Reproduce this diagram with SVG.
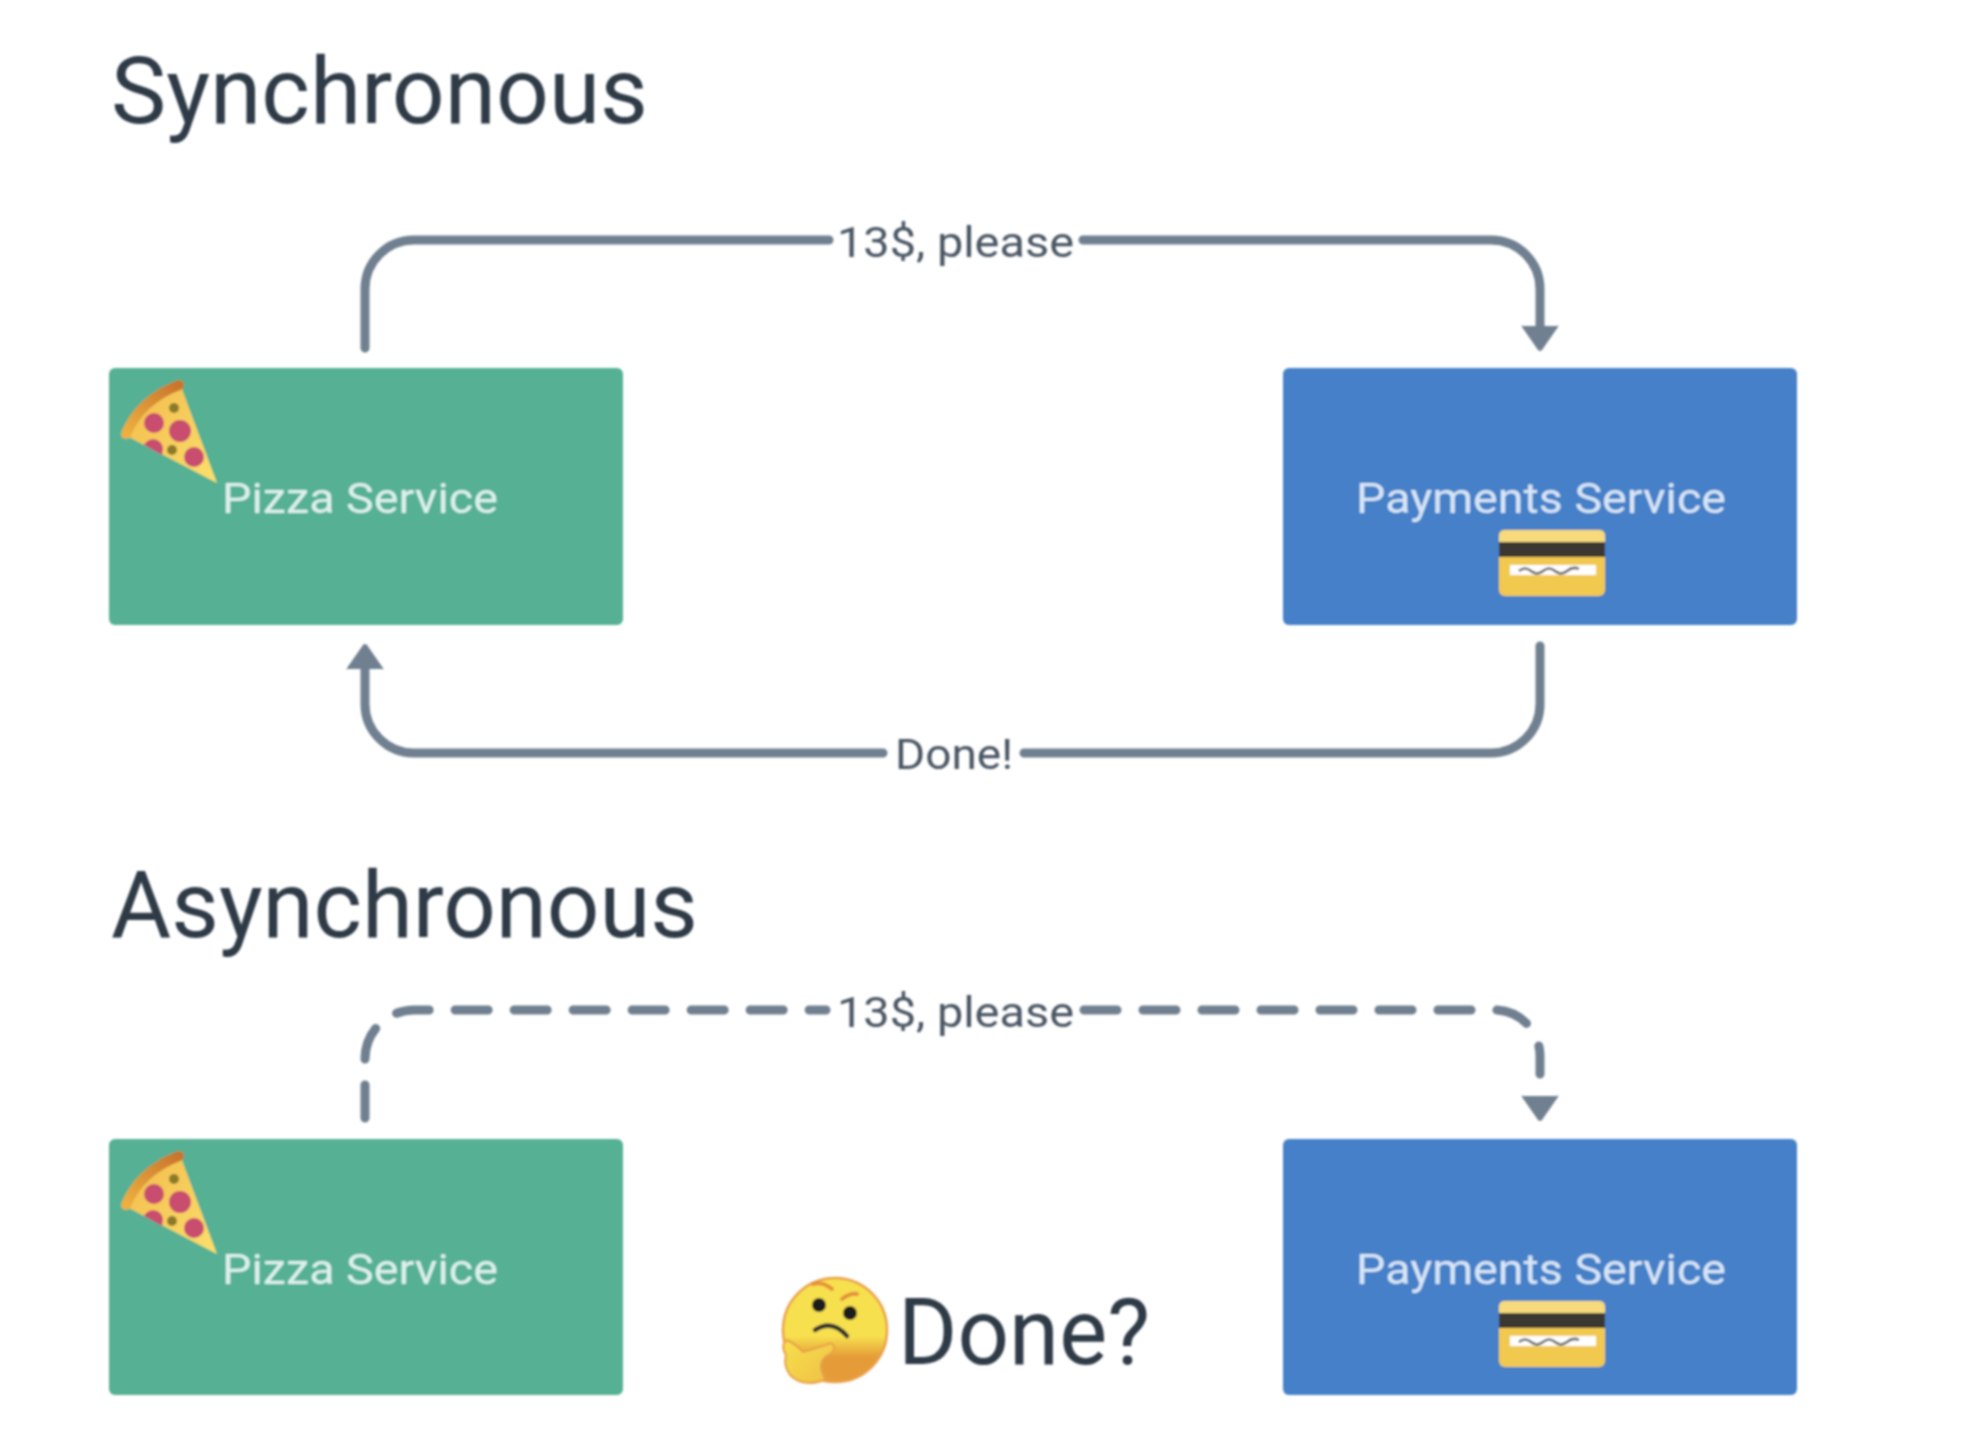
<svg xmlns="http://www.w3.org/2000/svg" width="1968" height="1432" viewBox="0 0 1968 1432">
<style>
text{font-family:"Roboto","Liberation Sans",sans-serif}
.title{font-size:93px;fill:#2F3B46}
.svc{font-size:42px;fill:#DDF1EC}
.pay{fill:#D8E6F6}
.lab{font-size:42px;fill:#4A5663}
.box{stroke:none}
.green{fill:#55B094}
.blue{fill:#4580C8}
.wire{fill:none;stroke:#708090;stroke-width:9;stroke-linecap:round}
.dash{stroke-dasharray:33 26}
.head{fill:none;stroke:none}
</style>
<defs>
<filter id="soft" filterUnits="userSpaceOnUse" x="0" y="0" width="1968" height="1432"><feGaussianBlur stdDeviation="0.9"/></filter>
<marker id="arrow" markerUnits="userSpaceOnUse" markerWidth="30" markerHeight="40" viewBox="0 0 30 40" refX="2" refY="20" orient="auto">
<path d="M2 3 Q0 1 3 2 L26 18 Q28 20 26 22 L3 38 Q0 39 2 37 Z" fill="#708090"/>
</marker>
<linearGradient id="slice" x1="0" y1="0" x2="1" y2="1"><stop offset="0" stop-color="#F2B94B"/><stop offset="1" stop-color="#FBE06C"/></linearGradient>
<linearGradient id="crust" x1="0" y1="1" x2="1" y2="0"><stop offset="0" stop-color="#EDB03F"/><stop offset="1" stop-color="#C9752C"/></linearGradient>
<linearGradient id="face" x1="0" y1="0" x2="0" y2="1"><stop offset="0" stop-color="#F7E04E"/><stop offset="0.56" stop-color="#F7E04E"/><stop offset="0.76" stop-color="#E59C38"/><stop offset="1" stop-color="#E59C38"/></linearGradient>
<linearGradient id="hand" x1="0" y1="0" x2="1" y2="1"><stop offset="0" stop-color="#F7E04E"/><stop offset="1" stop-color="#EFC044"/></linearGradient>
<g id="pizza">
<path d="M125 435 Q139 399 180 384 L217 483 Z" fill="url(#slice)"/>
<path d="M126 434 Q140 400 179 385" fill="none" stroke="url(#crust)" stroke-width="10" stroke-linecap="round"/>
<circle cx="154" cy="423" r="10" fill="#C84E6E"/><circle cx="180" cy="431" r="11" fill="#C84E6E"/>
<path d="M144 445 A10 10 0 0 1 163 448 L162 455 Z" fill="#C84E6E"/><circle cx="194" cy="457" r="10" fill="#C84E6E"/>
<circle cx="174" cy="408" r="5" fill="#8C7A2C"/><circle cx="172" cy="450" r="5" fill="#8C7A2C"/>
</g>
<g id="card">
<rect x="1499" y="530" width="106" height="66" rx="6" fill="#F1C94F"/>
<path d="M1499 542 V536 Q1499 530 1505 530 H1599 Q1605 530 1605 536 V542 Z" fill="#F6DA7C"/>
<rect x="1499" y="542" width="106" height="15" fill="#3A3832"/>
<rect x="1510" y="565" width="86" height="10" fill="#FFFFFF"/>
<path d="M1519 571 q6 -5 12 0 t12 0 t12 0 t12 0 t12 -2" fill="none" stroke="#5E5E5E" stroke-width="2.5"/>
</g>
</defs>
<rect width="1968" height="1432" fill="#FFFFFF"/>
<g filter="url(#soft)">
<g id="connectors">
<path class="wire" d="M365 348 V289 A49 49 0 0 1 414 240 H829"/>
<path class="wire" d="M1083 240 H1491 A49 49 0 0 1 1540 289 V326" marker-end="url(#arrow)"/>
<path class="wire" d="M1540 646 V704 A49 49 0 0 1 1491 753 H1024"/>
<path class="wire" d="M883 753 H414 A49 49 0 0 1 365 704 V669" marker-end="url(#arrow)"/>
<path class="wire dash" d="M365 1118 V1059 A49 49 0 0 1 414 1010 H826"/>
<path class="wire dash" d="M1084 1010 H1494 A46 46 0 0 1 1540 1056 V1074"/>
<path class="head" d="M1540 1090 V1096" marker-end="url(#arrow)"/>
</g>
<g id="title-sync"><text class="title" x="111" y="123" textLength="537" lengthAdjust="spacingAndGlyphs">Synchronous</text></g>
<g id="title-async"><text class="title" x="111" y="937" textLength="587" lengthAdjust="spacingAndGlyphs">Asynchronous</text></g>
<g id="label-pay-sync"><text class="lab" x="837" y="257" textLength="237" lengthAdjust="spacingAndGlyphs">13$, please</text></g>
<g id="label-done"><text class="lab" x="895" y="769" textLength="118" lengthAdjust="spacingAndGlyphs">Done!</text></g>
<g id="label-pay-async"><text class="lab" x="837" y="1027" textLength="237" lengthAdjust="spacingAndGlyphs">13$, please</text></g>
<g id="pizza-sync">
<rect class="box green" x="109" y="368" width="514" height="257" rx="6"/>
<use href="#pizza"/>
<text class="svc" x="222" y="513" textLength="276" lengthAdjust="spacingAndGlyphs">Pizza Service</text>
</g>
<g id="payments-sync">
<rect class="box blue" x="1283" y="368" width="514" height="257" rx="6"/>
<text class="svc pay" x="1356" y="513" textLength="370" lengthAdjust="spacingAndGlyphs">Payments Service</text>
<use href="#card"/>
</g>
<g id="pizza-async">
<rect class="box green" x="109" y="1139" width="514" height="256" rx="6"/>
<use href="#pizza" y="771"/>
<text class="svc" x="222" y="1284" textLength="276" lengthAdjust="spacingAndGlyphs">Pizza Service</text>
</g>
<g id="payments-async">
<rect class="box blue" x="1283" y="1139" width="514" height="256" rx="6"/>
<text class="svc pay" x="1356" y="1284" textLength="370" lengthAdjust="spacingAndGlyphs">Payments Service</text>
<use href="#card" y="771"/>
</g>
<g id="done-question">
<circle cx="835" cy="1330" r="52" fill="url(#face)" stroke="#E9A04A" stroke-width="2.5"/>
<path d="M813 1284 Q822 1281 832 1289 M842 1299 Q850 1293 857 1294" fill="none" stroke="#E5913A" stroke-width="4" stroke-linecap="round"/>
<circle cx="819" cy="1305" r="7" fill="#1E1E1E"/><circle cx="850" cy="1313" r="7" fill="#1E1E1E"/>
<path d="M815 1330 Q832 1319 847 1336" fill="none" stroke="#333" stroke-width="4.5" stroke-linecap="round"/>
<path d="M787 1340 Q797 1345 803 1352 Q820 1347 831 1343 Q838 1348 830 1354 Q818 1360 822 1372 L825 1380 Q803 1388 790 1375 Q783 1365 786 1355 Q780 1345 787 1340 Z" fill="url(#hand)" stroke="#E9A04A" stroke-width="2"/>
<text class="title" x="898" y="1364" textLength="252" lengthAdjust="spacingAndGlyphs">Done?</text>
</g>
</g>
</svg>
